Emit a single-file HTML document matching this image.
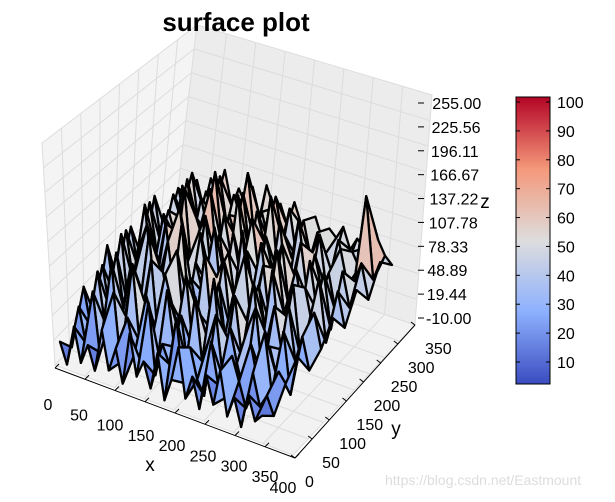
<!DOCTYPE html>
<html><head><meta charset="utf-8">
<style>
body{margin:0;background:#fff;width:615px;height:497px;overflow:hidden;font-family:"Liberation Sans",sans-serif}
svg text{font-family:"Liberation Sans",sans-serif}
</style></head>
<body>
<svg id="chart" width="615" height="497" xmlns="http://www.w3.org/2000/svg">
<polygon points="42,143 197,25 172,240 55,365" fill="#f4f4f4" stroke="#ddd"/>
<polygon points="197,25 432,95 415,325 172,240" fill="#ececec" stroke="#ddd"/>
<polygon points="55,365 172,240 415,325 293,455" fill="#f2f2f2" stroke="#ddd"/>
<g id="grid" stroke="#dcdcdc" stroke-width="1"></g>
<g id="surf"></g>
<g id="axes" font-size="16" fill="#000"></g>
<text x="236" y="31" font-size="26" font-weight="bold" text-anchor="middle">surface plot</text>
<text x="150" y="471" font-size="19" text-anchor="middle">x</text>
<text x="396" y="435" font-size="19" text-anchor="middle">y</text>
<text x="485" y="208" font-size="19" text-anchor="middle">z</text>
<defs><linearGradient id="cw" x1="0" y1="1" x2="0" y2="0">
<stop offset="0" stop-color="#3b4cc0"/><stop offset="0.25" stop-color="#8db0fe"/><stop offset="0.5" stop-color="#dddddd"/><stop offset="0.75" stop-color="#f4987a"/><stop offset="1" stop-color="#b40426"/></linearGradient></defs>
<rect x="516" y="97" width="34" height="287" fill="url(#cw)" stroke="#000"/>
<g id="cbticks" font-size="16"></g>
<text x="385" y="485" font-size="14" fill="#ddd">https://blog.csdn.net/Eastmount</text>
</svg>
<script>
const zTicks=["-10.00","19.44","48.89","78.33","107.78","137.22","166.67","196.11","225.56","255.00"];
const xTicks=[0,50,100,150,200,250,300,350,400];
const yTicks=[0,50,100,150,200,250,300,350];
const cbTicks=[10,20,30,40,50,60,70,80,90,100];
const zData=[
[20,5,35,10,25,8,40,12,30,6,45,15,28,10,38,5,22,48,12,30,8,35,15,42,10,26,6,32,14,20],
[8,40,15,55,12,30,60,10,45,20,15,62,10,35,22,58,12,40,18,8,50,20,12,45,28,10,38,15,25,12],
[45,18,60,25,70,15,35,75,20,55,30,10,65,25,50,12,68,22,40,60,15,55,30,10,48,22,60,18,35,28],
[15,55,25,68,30,60,20,40,72,15,65,45,25,70,18,45,30,75,20,35,68,25,50,65,15,40,20,55,10,40],
[60,25,72,20,48,35,80,25,55,30,75,20,58,35,80,25,62,20,55,28,42,72,18,35,60,30,65,25,45,22],
[22,65,30,58,75,20,45,68,30,85,25,60,40,15,55,70,20,48,78,25,60,30,75,22,45,70,20,40,55,30],
[58,30,78,25,40,70,25,85,45,20,72,35,80,25,65,30,85,28,40,65,22,80,35,55,25,60,35,70,25,45],
[25,70,35,65,28,55,90,30,60,75,25,65,30,70,40,60,25,70,30,55,75,30,60,28,70,35,65,25,55,30],
[65,30,58,40,80,30,60,45,85,30,70,40,88,25,75,35,65,40,80,25,45,70,30,65,40,55,28,60,35,50],
[30,60,45,75,35,65,40,88,35,60,45,80,35,70,50,85,30,60,45,75,35,55,70,30,50,65,40,45,60,35],
[55,35,70,30,60,45,75,40,65,50,85,35,60,40,75,45,70,35,65,40,60,45,35,60,40,55,45,100,40,55],
[40,55,35,60,45,70,45,60,50,65,45,70,55,60,45,65,50,55,60,45,55,50,60,45,55,50,45,60,50,45]
];
const ns="http://www.w3.org/2000/svg";
const A=[60,362],B=[262,436],D=[190,245];
function proj(x,y,z){return [A[0]+x/400*(B[0]-A[0])+y/350*(D[0]-A[0]), A[1]+x/400*(B[1]-A[1])+y/350*(D[1]-A[1])-(z-5)*1.35];}
function cmap(v){const s=[[0,[59,76,192]],[25,[141,176,254]],[50,[221,221,221]],[75,[244,152,122]],[100,[180,4,38]]];
 v=Math.max(0,Math.min(100,v));for(let i=0;i<4;i++){if(v<=s[i+1][0]){const t=(v-s[i][0])/25;return 'rgb('+s[i][1].map((c,k)=>Math.round(c+(s[i+1][1][k]-c)*t)).join(',')+')';}}}
const surf=document.getElementById('surf');
const R=zData.length,C=zData[0].length;
for(let r=R-2;r>=0;r--){for(let c=0;c<C-1;c++){
 const x0=c/(C-1)*400,x1=(c+1)/(C-1)*400,y0=r/(R-1)*350,y1=(r+1)/(R-1)*350;
 const pts=[proj(x0,y0,zData[r][c]),proj(x1,y0,zData[r][c+1]),proj(x1,y1,zData[r+1][c+1]),proj(x0,y1,zData[r+1][c])];
 const avg=(zData[r][c]+zData[r][c+1]+zData[r+1][c]+zData[r+1][c+1])/4;
 const p=document.createElementNS(ns,'polygon');
 p.setAttribute('points',pts.map(q=>q.join(',')).join(' '));
 p.setAttribute('fill',cmap(avg*1.1-8));p.setAttribute('stroke','#000');p.setAttribute('stroke-width','2.3');p.setAttribute('stroke-linejoin','round');
 
 
 surf.appendChild(p);}}
const grid=document.getElementById('grid');
function line(g,x1,y1,x2,y2,st){const l=document.createElementNS(ns,'line');l.setAttribute('x1',x1);l.setAttribute('y1',y1);l.setAttribute('x2',x2);l.setAttribute('y2',y2);if(st)l.setAttribute('stroke',st);
 
 
 g.appendChild(l);}
for(let i=1;i<8;i++){const t=i/8;
 line(grid,55+t*(293-55),365+t*(455-365),172+t*(415-172),240+t*(325-240));
 line(grid,55+t*(172-55),365+t*(240-365),293+t*(415-293),455+t*(325-455));
 line(grid,172+t*(415-172),240+t*(325-240),197+t*(432-197),25+t*(95-25));
 line(grid,55+t*(172-55),365+t*(240-365),42+t*(197-42),143+t*(25-143));
}
for(let i=1;i<9;i++){const t=i/9;
 line(grid,42+(55-42)*t,143+(365-143)*t,197+(172-197)*t,25+(240-25)*t);
 line(grid,197+(172-197)*t,25+(240-25)*t,432+(415-432)*t,95+(325-95)*t);}
const ax=document.getElementById('axes');
line(ax,55,368,295,458,'#000');line(ax,295,458,415,325,'#000');
function txt(g,x,y,s,anchor,name){const t=document.createElementNS(ns,'text');t.setAttribute('x',x);t.setAttribute('y',y);t.textContent=s;if(anchor)t.setAttribute('text-anchor',anchor);
 
 
 g.appendChild(t);}
xTicks.forEach((v,i)=>{const t=v/400;const px=55+t*240,py=368+t*90;line(ax,px,py,px+4,py-4,'#000');
 const lx=v<400?48+v/350*217:283, ly=v<400?410+v/350*72:493;
 txt(ax,lx,ly,String(v),'middle','x-tick-label');});
yTicks.forEach(v=>{const t=v/350;const px=295+t*120,py=458-t*133;line(ax,px,py,px-4,py-3,'#000');txt(ax,px+10,py+29,String(v),'start','y-tick-label');});
zTicks.forEach((s,i)=>{const y=324-i*(324-109)/9;txt(ax,426+i*0.7,y,s,'start','z-tick-label');line(ax,418,y-6,424,y-6,'#000');});
const cb=document.getElementById('cbticks');
cbTicks.forEach(v=>{const y=362-(v-10)*(260/90);line(cb,516,y,520,y,'#000');line(cb,546,y,550,y,'#000');txt(cb,557,y+6,String(v),'start','colorbar-tick-label');});
</script>
</body></html>
